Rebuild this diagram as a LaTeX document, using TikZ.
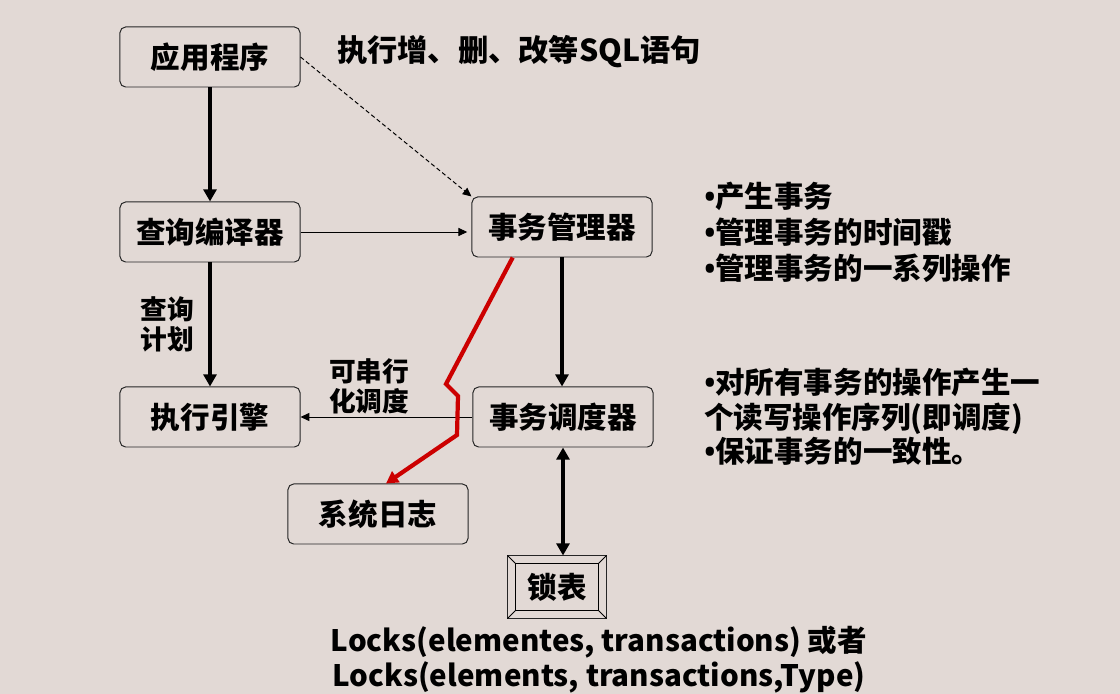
\documentclass[tikz,border=0pt]{standalone}
\usepackage{fontspec}
\setmainfont{Noto Sans CJK SC}
\newfontfamily\latinfont{Open Sans}
\usetikzlibrary{arrows.meta, positioning}

\definecolor{slidebg}{RGB}{226,217,213}
\definecolor{logred}{RGB}{204,0,0}
\newcommand{\dotmark}{{\latinfont\bfseries •}}

\begin{document}
\begin{tikzpicture}[
		x=0.025cm, y=-0.025cm,
		>={Triangle[length=3mm, width=3.2mm]},
		module/.style={rectangle, draw=black!85, rounded corners=4pt, line width=0.7pt, minimum width=4.5cm, minimum height=1.5cm, inner sep=0pt, font=\fontsize{21}{25}\selectfont\bfseries},
		flow/.style={->, line width=2.8pt},
		call/.style={-{Triangle[length=2.2mm, width=2mm]}, line width=0.7pt},
		label_text/.style={font=\fontsize{19}{21}\selectfont\bfseries, align=center, inner sep=0pt},
		note_text/.style={font=\fontsize{21}{25.5}\selectfont\bfseries, align=left, anchor=west, inner sep=0pt}
		]
		
		% Background
		\fill[slidebg] (0,0) rectangle (1120,694);
		
		% Query side (left column)
		\node[module] (app) at (210,57) {应用程序};
		\node[module] (compiler) at (210,232) {查询编译器};
		\node[module] (engine) at (210,417) {执行引擎};
		
		% Transaction side (right column)
		\node[module] (txmgr) at (562,227) {事务管理器};
		\node[module] (sched) at (563,417) {事务调度器};
		\node[module] (syslog) at (378,514) {系统日志};
		\node[module, rounded corners=0pt, minimum width=2.45cm, minimum height=1.55cm] (locks) at (557,587) {锁表};
		
		% Lock table frame
		\draw[line width=0.7pt] ([shift={(0.2cm,-0.2cm)}]locks.north west) rectangle ([shift={(-0.2cm,0.2cm)}]locks.south east);
		\draw[line width=0.7pt] (locks.north west) -- ([shift={(0.2cm,-0.2cm)}]locks.north west);
		\draw[line width=0.7pt] (locks.north east) -- ([shift={(-0.2cm,-0.2cm)}]locks.north east);
		\draw[line width=0.7pt] (locks.south west) -- ([shift={(0.2cm,0.2cm)}]locks.south west);
		\draw[line width=0.7pt] (locks.south east) -- ([shift={(-0.2cm,0.2cm)}]locks.south east);
		
		% Notes
		\node[note_text, font=\fontsize{21.5}{26}\selectfont\bfseries] (sqlnote) at (337,52) {执行增、删、改等SQL语句};
		\node[note_text] (mgrnote) at (704,232) {\dotmark 产生事务\\\dotmark 管理事务的时间戳\\\dotmark 管理事务的一系列操作};
		\node[note_text, font=\fontsize{21}{24.5}\selectfont\bfseries] (schednote) at (704,417) {\dotmark 对所有事务的操作产生一\\个读写操作序列(即调度)\\\dotmark 保证事务的一致性。};
		\node[font=\fontsize{21}{25}\selectfont\bfseries, align=center, inner sep=0pt] (lockfmt) at (599,660) {Locks(elementes, transactions) 或者\\ Locks(elements, transactions,Type)};
		
		% Main flow
		\draw[flow] (app) -- (compiler);
		\draw[flow] (compiler) -- node[midway, left=10pt, label_text] {查询\\计划} (engine);
		\draw[flow] (txmgr) -- (txmgr |- sched.north);
		\draw[flow, <->] (sched.south) -- (sched.south |- locks.north);
		
		% Thin calls
		\draw[call, dashed, dash pattern=on 3pt off 2pt] (app.east) -- (txmgr.north west);
		\draw[call, shorten >=3pt] (compiler.east) -- (compiler.east -| txmgr.west);
		\draw[call] (sched.west) -- node[pos=0.6, above=2pt, label_text] {可串行\\化调度} (engine.east |- sched.west);
		
		% Logging path
		\draw[-{Triangle[length=3mm, width=3.2mm]}, logred, line width=3pt] ([xshift=1.03cm]txmgr.south west) -- (446,384) -- (458,396) -- (457,435) -- ([xshift=0.2cm]syslog.north);
		
	\end{tikzpicture}
\end{document}
